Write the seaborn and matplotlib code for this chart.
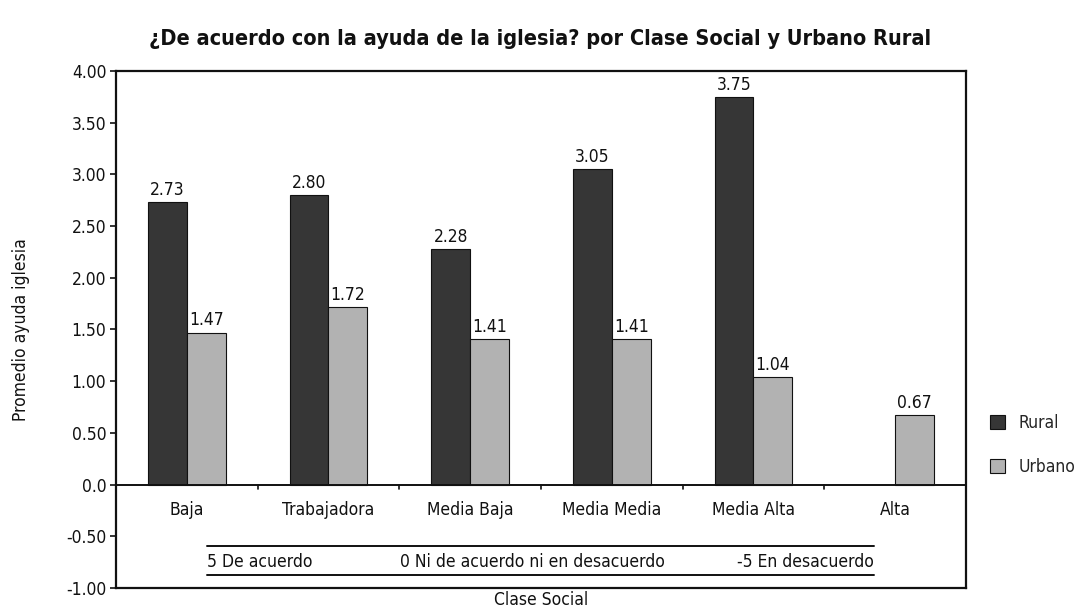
import numpy as np
import pandas as pd
import matplotlib
matplotlib.use("Agg")
import matplotlib.pyplot as plt
import seaborn as sns
from matplotlib.patches import Patch

# Data
categorias = ["Baja", "Trabajadora", "Media Baja", "Media Media", "Media Alta", "Alta"]
rural = [2.73, 2.80, 2.28, 3.05, 3.75, np.nan]
urbano = [1.47, 1.72, 1.41, 1.41, 1.04, 0.67]
zonas = ["Rural", "Urbano"]
yticks = [4.0, 3.5, 3.0, 2.5, 2.0, 1.5, 1.0, 0.5, 0.0, -0.5, -1.0]
ytick_labels = ["4.00", "3.50", "3.00", "2.50", "2.00", "1.50", "1.00", "0.50", "0.0", "-0.50", "-1.00"]
escala = ["5 De acuerdo", "0 Ni de acuerdo ni en desacuerdo", "-5 En desacuerdo"]

df = pd.DataFrame({
    "clase": categorias * 2,
    "zona": ["Rural"] * len(categorias) + ["Urbano"] * len(categorias),
    "valor": rural + urbano,
})

sns.set_theme(style="white")
plt.rcParams["font.family"] = ["DejaVu Sans"]
plt.rcParams["font.stretch"] = "condensed"

INK = "#111111"
FS = 12.5

fig = plt.figure(figsize=(10.81, 6.12), dpi=100)
ax = fig.add_axes([0.1073, 0.0392, 0.7863, 0.8449])

palette = {"Rural": "#363636", "Urbano": "#b2b2b2"}
sns.barplot(data=df, x="clase", y="valor", hue="zona", hue_order=zonas,
            order=categorias, palette=palette, saturation=1, width=0.55,
            dodge=True, ax=ax, legend=False, edgecolor=INK, linewidth=0.8)

ax.set_xlim(-0.5, len(categorias) - 0.5)
ax.set_ylim(-1.0, 4.0)

# value labels above each bar
for cont in ax.containers:
    for bar in cont:
        h = bar.get_height()
        if np.isnan(h) or h == 0:
            continue
        ax.text(bar.get_x() + bar.get_width() / 2, h + 0.03, f"{h:.2f}",
                ha="center", va="bottom", fontsize=FS, color=INK)

# frame and zero line
for s in ax.spines.values():
    s.set_visible(True)
    s.set_color(INK)
    s.set_linewidth(1.6)
ax.axhline(0, color=INK, lw=1.4, zorder=3)

# small ticks on the zero line between categories
for b in np.arange(0.5, len(categorias) - 0.5, 1.0):
    ax.plot([b, b], [0, -0.045], color=INK, lw=1.2, zorder=3)

# category names just below the zero line
ax.set_xticks([])
for i, c in enumerate(categorias):
    ax.text(i, -0.25, c, ha="center", va="center", fontsize=FS, color=INK)

# agreement scale note
ax.plot([0.142, 4.85], [-0.594, -0.594], color=INK, lw=1.4)
ax.plot([0.142, 4.85], [-0.874, -0.874], color=INK, lw=1.4)
ax.text(0.142, -0.745, escala[0], ha="left", va="center", fontsize=FS, color=INK)
ax.text(2.44, -0.745, escala[1], ha="center", va="center", fontsize=FS, color=INK)
ax.text(4.85, -0.745, escala[2], ha="right", va="center", fontsize=FS, color=INK)

ax.set_yticks(yticks)
ax.set_yticklabels(ytick_labels, fontsize=FS, color=INK)
ax.tick_params(axis="y", left=True, length=4, width=1.2, color=INK, pad=3)

ax.set_xlabel("Clase Social", fontsize=FS, color=INK, labelpad=2)
ax.set_ylabel("Promedio ayuda iglesia", fontsize=FS, color=INK, labelpad=26)

fig.suptitle("¿De acuerdo con la ayuda de la iglesia? por Clase Social y Urbano Rural",
             x=0.5, y=0.952, fontsize=15.6, fontweight="bold", color=INK)

handles = [Patch(facecolor=palette[z], edgecolor=INK, lw=0.8) for z in zonas]
fig.legend(handles, zonas, loc="upper left", bbox_to_anchor=(0.916, 0.323),
           frameon=False, fontsize=FS, handlelength=0.85, handleheight=0.85,
           labelspacing=1.5, handletextpad=0.8, borderpad=0, borderaxespad=0)

fig.savefig("out.png", dpi=100)
